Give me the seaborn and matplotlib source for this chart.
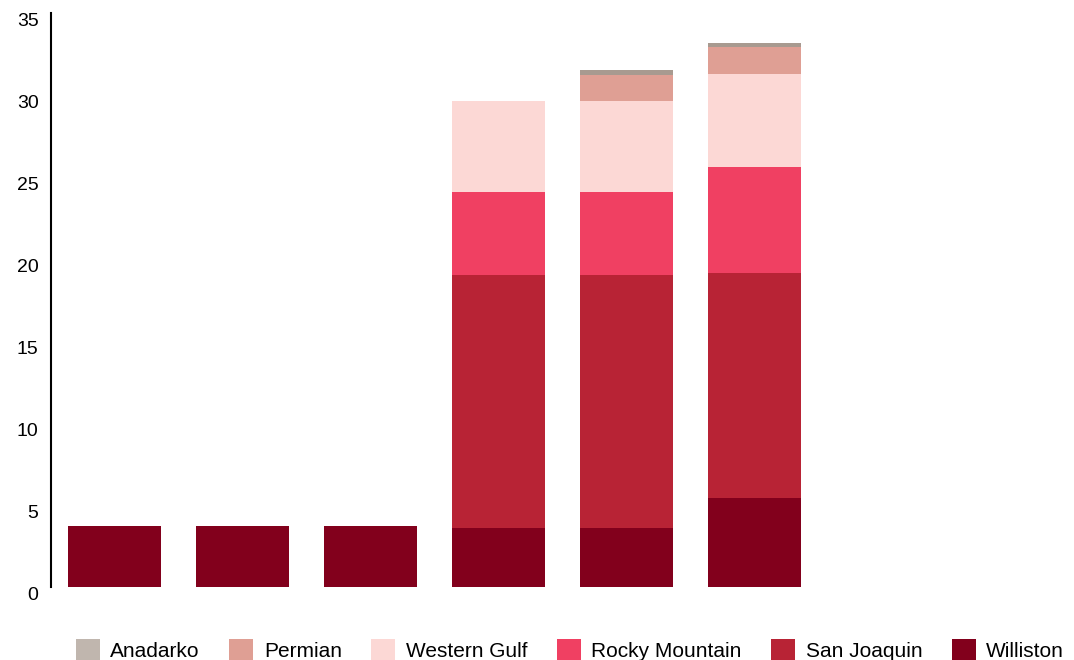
import numpy as np
import pandas as pd
import matplotlib
matplotlib.use('Agg')
import matplotlib.pyplot as plt
import seaborn as sns
from matplotlib.patches import Patch

# Categories (x labels are not shown in the chart; 8 slots, last two empty)
categories = ['1', '2', '3', '4', '5', '6', '7', '8']
bar_categories = ['1', '2', '3', '4', '5', '6']

# Series values (bottom to top)
williston = [3.7, 3.7, 3.7, 3.6, 3.6, 5.45]
san_joaquin = [0, 0, 0, 15.4, 15.4, 13.7]
rocky_mountain = [0, 0, 0, 5.1, 5.1, 6.45]
western_gulf = [0, 0, 0, 5.55, 5.55, 5.7]
permian = [0, 0, 0, 0, 1.6, 1.6]
anadarko = [0, 0, 0, 0, 0.25, 0.3]

series_names = ['Williston', 'San Joaquin', 'Rocky Mountain', 'Western Gulf', 'Permian', 'Anadarko']
series_values = [williston, san_joaquin, rocky_mountain, western_gulf, permian, anadarko]
bar_colors = ['#82001c', '#b82335', '#f04062', '#fcd8d5', '#df9f94', '#a89a90']
legend_colors = ['#82001c', '#b82335', '#f04062', '#fcd8d5', '#df9f94', '#c0b6ae']

sns.set_style('white')
plt.rcParams['font.family'] = ['Liberation Sans', 'DejaVu Sans']

fig = plt.figure(figsize=(10.74, 6.6), dpi=100)
ax = fig.add_axes([51 / 1074, (660 - 587) / 660, 1 - 51 / 1074, 574 / 660])

# cumulative heights, drawn from the top segment down so each covers the next
cum = np.cumsum(np.array(series_values), axis=0)
for i in range(len(series_names) - 1, -1, -1):
    df = pd.DataFrame({'cat': bar_categories, 'val': cum[i]})
    sns.barplot(data=df, x='cat', y='val', order=categories, color=bar_colors[i],
                width=0.727, saturation=1, linewidth=0, ax=ax)

ax.set_ylim(0, 35)
ax.set_xlim(-0.5, 7.5)
ax.set_yticks(range(0, 36, 5))
ax.set_xticks([])
ax.set_xlabel('')
ax.set_ylabel('')
ax.tick_params(axis='y', length=0, labelsize=14, pad=9, labelcolor='black')
for lab in ax.get_yticklabels():
    lab.set_verticalalignment('top')
sns.despine(ax=ax, bottom=True)
ax.spines['left'].set_linewidth(1.5)
ax.spines['left'].set_color('black')

# legend order: Anadarko ... Williston
handles = [Patch(facecolor=legend_colors[i], edgecolor='none', label=series_names[i])
           for i in range(len(series_names) - 1, -1, -1)]
leg = fig.legend(handles=handles, loc='center', ncol=6, frameon=False, fontsize=15,
                 bbox_to_anchor=(570 / 1074, 1 - 650 / 660),
                 handlelength=1.15, handleheight=1.15, handletextpad=0.5, columnspacing=1.42)
for t in leg.get_texts():
    t.set_color('black')

fig.savefig('out.png', dpi=100)
